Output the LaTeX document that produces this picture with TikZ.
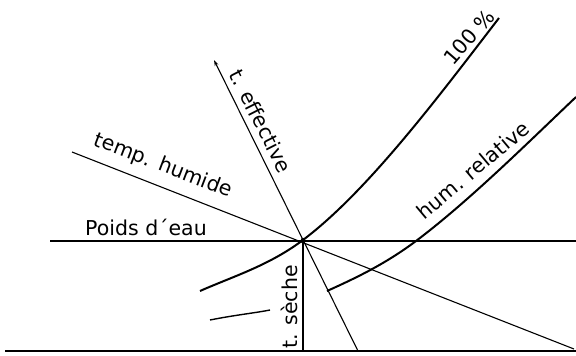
\documentclass[tikz,border=0pt]{standalone}
\usepackage{fontspec}
\setmainfont{DejaVu Sans}
\usetikzlibrary{arrows.meta}
\begin{document}
\begin{tikzpicture}[x=1pt,y=-1pt,
  thin line/.style={line width=1.1pt},
  thick line/.style={line width=1.8pt},
  curve line/.style={line width=2pt},
  lbl/.style={inner sep=0pt,font=\fontsize{20.5}{20.5}\selectfont}]
\useasboundingbox (0,0) rectangle (576,356);
% key points
\coordinate (P) at (303,240);
\coordinate (bl) at (5,351);
\coordinate (br) at (576,351);
\coordinate (pl) at (50,241);
\coordinate (pr) at (576,241);
\coordinate (sb) at (303,351);
\coordinate (et) at (214,60);
\coordinate (eb) at (358,351);
\coordinate (ht) at (72,152);
\coordinate (hb) at (574,349);
\coordinate (ca) at (200,291);
\coordinate (cb) at (499,18);
\coordinate (ra) at (327,291);
\coordinate (rm) at (416,241);
\coordinate (rb) at (576,97);
\coordinate (sa) at (210,320);
\coordinate (sz) at (270,310);
% base line
\draw[line width=2.4pt] (bl) -- (br);
% poids d'eau
\draw[thick line] (pl) -- (pr);
% t. seche
\draw[thin line] (P) -- (sb);
% t. effective
\draw[thin line,-{Stealth[length=6pt,width=4pt]}] (eb) -- (et);
% temp humide
\draw[thin line] (ht) -- (hb);
% 100 % curve
\draw[curve line] (ca) .. controls (234,276) and (269,265.5) .. (P)
  .. controls (368,191) and (439,96) .. (cb);
% hum. relative curve
\draw[curve line] (ra) .. controls (357,277.5) and (386,263.5) .. (rm)
  .. controls (469,201) and (526,144.5) .. (rb);
% small curve
\draw[line width=1.4pt] (sa) .. controls (235,315) and (255,313) .. (sz);
\fill (P) circle (2.2pt);
% labels
\node[lbl] (l1) at (146,227) {Poids d´eau};
\node[lbl,rotate=-21] (l2) at (163,166) {temp. humide};
\node[lbl,rotate=-63] (l3) at (261,121) {t. effective};
\node[lbl,rotate=90] (l4) at (289,307) {t. sèche};
\node[lbl,rotate=49] (l5) at (469,37) {100 \%};
\node[lbl,rotate=40] (l6) at (473,170) {hum. relative};
\end{tikzpicture}
\end{document}
